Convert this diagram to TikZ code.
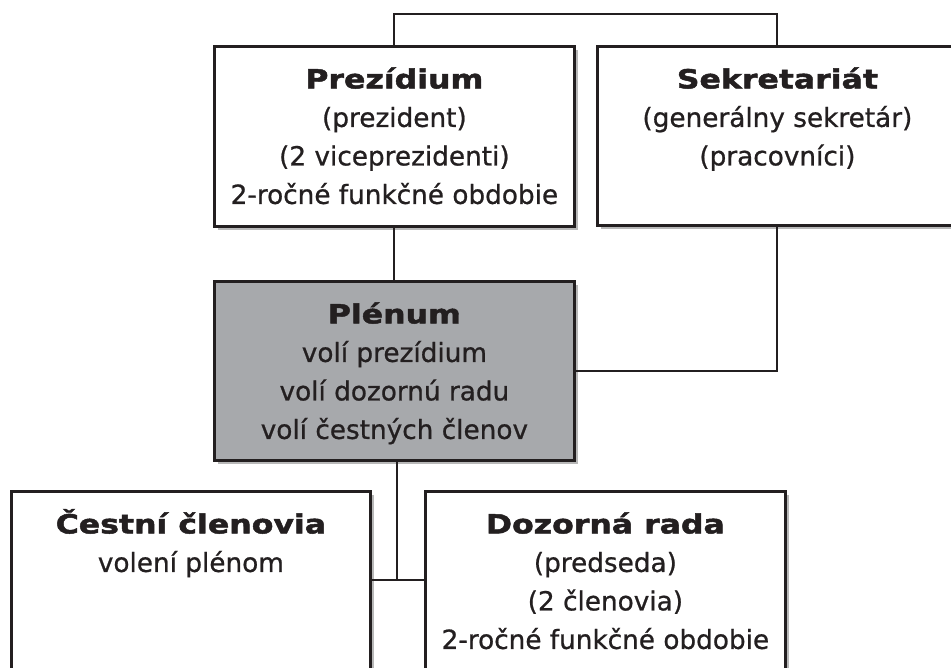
\documentclass[tikz,border=0pt]{standalone}
\usepackage{fontspec}
\setmainfont{DejaVu Sans}[FakeBold=0.8]
\usetikzlibrary{shadows}
\definecolor{ink}{HTML}{231F20}
\definecolor{plen}{HTML}{A7A9AC}
\definecolor{shade}{HTML}{B8B8B8}
\newcommand\orgtext[3]{\parbox[c][#2][t]{#1}{\centering\color{ink}\fontsize{26.3}{38.5}\selectfont\rule{0pt}{42pt}#3}}
\newcommand\orghead[1]{{\bfseries\addfontfeatures{FakeStretch=1.2,FakeBold=1.8}#1}}
\begin{document}
\begin{tikzpicture}[x=1pt,y=-1pt,
  orgbox/.style={draw=ink, line width=2.8pt, fill=white, inner sep=0pt, anchor=north west,
    drop shadow={shadow xshift=3.5pt, shadow yshift=-3.5pt, fill=shade, opacity=1}},
  conn/.style={draw=ink, line width=2pt}]
\useasboundingbox (0,0) rectangle (951,668);
\node[orgbox] (prez) at (213,45) {\orgtext{360pt}{180pt}{\orghead{Prezídium}\\(prezident)\\(2 viceprezidenti)\\2-ročné funkčné obdobie}};
\node[orgbox] (sekr) at (596,45) {\orgtext{360pt}{179pt}{\orghead{Sekretariát}\\(generálny sekretár)\\(pracovníci)}};
\node[orgbox, fill=plen] (plen) at (213,280) {\orgtext{360pt}{179pt}{\orghead{Plénum}\\volí prezídium\\volí dozornú radu\\volí čestných členov}};
\node[orgbox] (cest) at (10,490) {\orgtext{359pt}{210pt}{\orghead{Čestní členovia}\\volení plénom}};
\node[orgbox] (dozo) at (424,490) {\orgtext{360pt}{210pt}{\orghead{Dozorná rada}\\(predseda)\\(2 členovia)\\2-ročné funkčné obdobie}};
\coordinate (topline) at (0,14);
\coordinate (junc) at (396.5,580);
\draw[conn] (prez.north) -- (prez.north |- topline) -| (sekr.north);
\draw[conn] (prez.south) -- (plen.north);
\draw[conn] (sekr.south) |- (plen.east);
\draw[conn] (junc |- plen.south) -- (junc);
\draw[conn] (cest.east |- junc) -- (dozo.west |- junc);
\end{tikzpicture}
\end{document}
